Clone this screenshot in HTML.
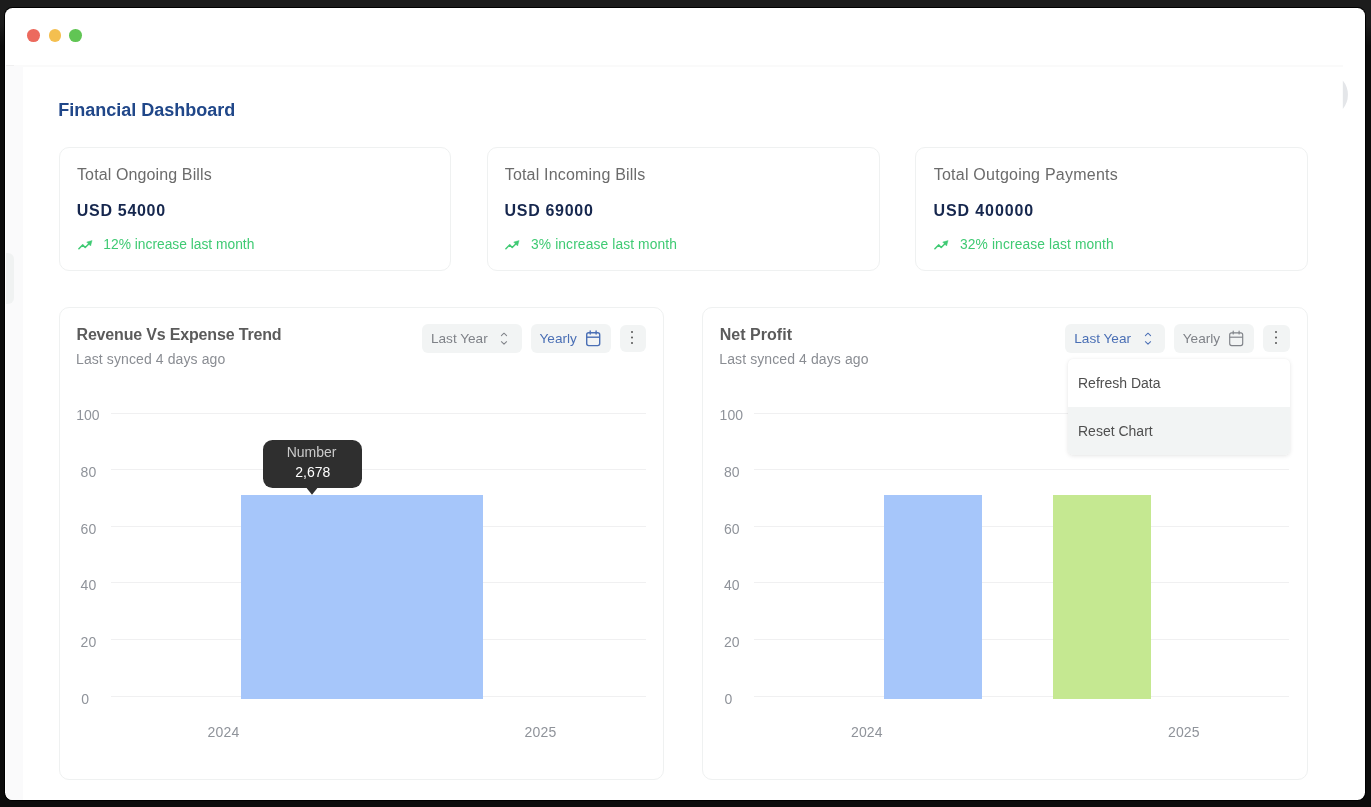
<!DOCTYPE html>
<html><head><meta charset="utf-8">
<style>
*{box-sizing:border-box;margin:0;padding:0}
html,body{width:1371px;height:807px;overflow:hidden;background:linear-gradient(to bottom,#1c1c1c 0,#1c1c1c 24px,#0c0c0c 46px,#0c0c0c 100%);font-family:"Liberation Sans",sans-serif;}
.abs{position:absolute}
#winb{position:absolute;left:4px;top:7px;width:1362px;height:794px;background:#000;border-radius:8.5px}
#win{position:absolute;left:4.9px;top:7.7px;width:1360.2px;height:792.2px;background:#fff;border-radius:7.6px;overflow:hidden}
#tb{position:absolute;left:1.4px;top:57.3px;width:1336.5px;height:1.7px;background:#fafafa}
#tb2{position:absolute;left:1.4px;top:57.3px;width:8px;height:1.7px;background:#efeff0}
.dot{position:absolute;width:12.8px;height:12.8px;border-radius:50%;top:21.55px}
#side{position:absolute;left:1.4px;top:58.5px;width:16.7px;height:740px;background:#fafafb}
#sidepill{position:absolute;left:1.2px;top:245.3px;width:8px;height:51px;background:#f0f2f2;border-radius:0 6px 6px 0}

.t{position:absolute;white-space:nowrap;line-height:1}
.card{position:absolute;border:1px solid #eff1f1;border-radius:10px;background:#fff}
.ct{color:#6b6b6b;font-size:16px}
.cv{color:#16274e;font-size:16px;font-weight:bold;letter-spacing:0.7px}
.cg{color:#3fca73;font-size:13.8px}
.btn{position:absolute;background:#f2f4f4;border-radius:6px;height:28.5px;top:324.1px}
.grid{position:absolute;height:1px;background:#f0f0f1}
.yl{color:#8f939a;font-size:14px}
</style></head><body>
<div id="root" style="position:absolute;left:0;top:0;width:1371px;height:807px;will-change:transform">
<div id="winb"></div><div id="win">
 <div id="tb"></div>
 <div class="dot" style="left:22.2px;background:#ec6a5e"></div>
 <div class="dot" style="left:43.8px;background:#f4bf4f"></div>
 <div class="dot" style="left:64.6px;background:#61c554"></div>
 <div id="tb2"></div><div id="side"></div><div id="sidepill"></div>
</div>
<svg class="abs" style="left:1340px;top:78px" width="10" height="34" viewBox="1340 78 10 34"><path d="M1342.8 80.6 A22.1 22.1 0 0 1 1342.8 108.9 Z" fill="#e4e6e9"/></svg>
<div class="t" id="title" style="left:58.3px;top:100.6px;font-size:18px;font-weight:bold;color:#204789">Financial Dashboard</div>
<div class="card" style="left:59px;top:147px;width:392px;height:124px"></div>
<div class="t ct" id="ct0" style="left:77px;top:167px;letter-spacing:0.12px">Total Ongoing Bills</div>
<div class="t cv" id="cv0" style="left:76.8px;top:202.7px;letter-spacing:0.7px">USD 54000</div>
<div class="t cg" id="cg0" style="left:103.3px;top:238px;letter-spacing:0px">12% increase last month</div>
<svg class="abs" style="left:77.7px;top:238.6px" width="16" height="12" viewBox="0 0 16 12"><path d="M0.9 9.7 L4.6 5.9 L7.2 8.5 L11.2 4.5" fill="none" stroke="#3fca73" stroke-width="1.5" stroke-linecap="round" stroke-linejoin="round"/><path d="M8.7 3.1 L14.1 1.5 L12.6 7.0 Z" fill="#3fca73" stroke="#3fca73" stroke-width="0.4" stroke-linejoin="round"/></svg>
<div class="card" style="left:486.5px;top:147px;width:393px;height:124px"></div>
<div class="t ct" id="ct1" style="left:504.7px;top:167px;letter-spacing:0.19px">Total Incoming Bills</div>
<div class="t cv" id="cv1" style="left:504.5px;top:202.7px;letter-spacing:0.7px">USD 69000</div>
<div class="t cg" id="cg1" style="left:531.0px;top:238px;letter-spacing:0.12px">3% increase last month</div>
<svg class="abs" style="left:505.4px;top:238.6px" width="16" height="12" viewBox="0 0 16 12"><path d="M0.9 9.7 L4.6 5.9 L7.2 8.5 L11.2 4.5" fill="none" stroke="#3fca73" stroke-width="1.5" stroke-linecap="round" stroke-linejoin="round"/><path d="M8.7 3.1 L14.1 1.5 L12.6 7.0 Z" fill="#3fca73" stroke="#3fca73" stroke-width="0.4" stroke-linejoin="round"/></svg>
<div class="card" style="left:915px;top:147px;width:392.5px;height:124px"></div>
<div class="t ct" id="ct2" style="left:933.7px;top:167px;letter-spacing:0.24px">Total Outgoing Payments</div>
<div class="t cv" id="cv2" style="left:933.5px;top:202.7px;letter-spacing:0.9px">USD 400000</div>
<div class="t cg" id="cg2" style="left:960.0px;top:238px;letter-spacing:0.12px">32% increase last month</div>
<svg class="abs" style="left:934.4000000000001px;top:238.6px" width="16" height="12" viewBox="0 0 16 12"><path d="M0.9 9.7 L4.6 5.9 L7.2 8.5 L11.2 4.5" fill="none" stroke="#3fca73" stroke-width="1.5" stroke-linecap="round" stroke-linejoin="round"/><path d="M8.7 3.1 L14.1 1.5 L12.6 7.0 Z" fill="#3fca73" stroke="#3fca73" stroke-width="0.4" stroke-linejoin="round"/></svg>
<div class="card" style="left:59px;top:307px;width:605px;height:473px"></div>
<div class="card" style="left:702.3px;top:307px;width:605.3px;height:473px"></div>
<div class="t" id="h0" style="left:76.5px;top:326.6px;font-size:16px;letter-spacing:-0.17px;font-weight:bold;color:#5b5b5b">Revenue Vs Expense Trend</div>
<div class="t" id="s0" style="left:76px;top:351.7px;font-size:14px;letter-spacing:0.1px;color:#8a8d93">Last synced 4 days ago</div>
<div class="btn" style="left:422px;width:99.7px"></div>
<div class="btn" style="left:530.8px;width:80px"></div>
<div class="btn" style="left:619.8px;width:26.5px;height:27px;top:325px"></div>
<div class="t" id="ba0" style="left:431px;top:332.3px;font-size:13.6px;color:#7f8288">Last Year</div>
<div class="t" id="bb0" style="left:539.5px;top:332.3px;font-size:13.6px;color:#4a6fb5">Yearly</div>
<svg class="abs" style="left:499.2px;top:331px" width="10" height="16" viewBox="0 0 10 16"><path d="M2.4 4.6 L5 2.2 L7.6 4.6 M2.4 10.7 L5 13.2 L7.6 10.7" fill="none" stroke="#7f8288" stroke-width="1.05" stroke-linecap="round" stroke-linejoin="round"/></svg>
<svg class="abs" style="left:584px;top:329px" width="18" height="19" viewBox="0 0 18 19"><rect x="2.7" y="3.8" width="13" height="12.8" rx="2" fill="none" stroke="#4a6fb5" stroke-width="1.4"/><path d="M2.7 8.2 H15.7" stroke="#4a6fb5" stroke-width="1.4"/><path d="M6.2 2.0 V5.0 M12.1 2.0 V5.0" stroke="#4a6fb5" stroke-width="1.4" stroke-linecap="round"/></svg>
<svg class="abs" style="left:629.4px;top:329px" width="6" height="18" viewBox="0 0 6 18"><circle cx="3" cy="3.1" r="1.0" fill="#555"/><circle cx="3" cy="8.6" r="1.0" fill="#555"/><circle cx="3" cy="14.1" r="1.0" fill="#555"/></svg>
<div class="t" id="h1" style="left:719.8px;top:326.6px;font-size:16px;letter-spacing:0.02px;font-weight:bold;color:#5b5b5b">Net Profit</div>
<div class="t" id="s1" style="left:719.3px;top:351.7px;font-size:14px;letter-spacing:0.1px;color:#8a8d93">Last synced 4 days ago</div>
<div class="btn" style="left:1065.3px;width:99.7px"></div>
<div class="btn" style="left:1174.1px;width:80px"></div>
<div class="btn" style="left:1263.1px;width:26.5px;height:27px;top:325px"></div>
<div class="t" id="ba1" style="left:1074.3px;top:332.3px;font-size:13.6px;color:#4a6fb5">Last Year</div>
<div class="t" id="bb1" style="left:1182.8px;top:332.3px;font-size:13.6px;color:#7f8288">Yearly</div>
<svg class="abs" style="left:1142.5px;top:331px" width="10" height="16" viewBox="0 0 10 16"><path d="M2.4 4.6 L5 2.2 L7.6 4.6 M2.4 10.7 L5 13.2 L7.6 10.7" fill="none" stroke="#4a6fb5" stroke-width="1.05" stroke-linecap="round" stroke-linejoin="round"/></svg>
<svg class="abs" style="left:1227.3px;top:329px" width="18" height="19" viewBox="0 0 18 19"><rect x="2.7" y="3.8" width="13" height="12.8" rx="2" fill="none" stroke="#7f8288" stroke-width="1.15"/><path d="M2.7 8.2 H15.7" stroke="#7f8288" stroke-width="1.15"/><path d="M6.2 2.0 V5.0 M12.1 2.0 V5.0" stroke="#7f8288" stroke-width="1.15" stroke-linecap="round"/></svg>
<svg class="abs" style="left:1272.6999999999998px;top:329px" width="6" height="18" viewBox="0 0 6 18"><circle cx="3" cy="3.1" r="1.0" fill="#555"/><circle cx="3" cy="8.6" r="1.0" fill="#555"/><circle cx="3" cy="14.1" r="1.0" fill="#555"/></svg>
<div class="grid" style="left:111.0px;top:412.5px;width:535px"></div>
<div class="t yl" style="left:76.3px;top:408.45px">100</div>
<div class="grid" style="left:111.0px;top:469.0px;width:535px"></div>
<div class="t yl" style="left:80.6px;top:465.10px">80</div>
<div class="grid" style="left:111.0px;top:525.5px;width:535px"></div>
<div class="t yl" style="left:80.6px;top:521.75px">60</div>
<div class="grid" style="left:111.0px;top:582.0px;width:535px"></div>
<div class="t yl" style="left:80.6px;top:578.40px">40</div>
<div class="grid" style="left:111.0px;top:638.5px;width:535px"></div>
<div class="t yl" style="left:80.6px;top:635.05px">20</div>
<div class="grid" style="left:111.0px;top:695.5px;width:535px"></div>
<div class="t yl" style="left:81.2px;top:691.70px">0</div>
<div class="t yl" style="left:207.6px;top:724.6px;letter-spacing:0.2px">2024</div>
<div class="t yl" style="left:524.6px;top:724.6px;letter-spacing:0.2px">2025</div>
<div class="grid" style="left:754.3px;top:412.5px;width:535px"></div>
<div class="t yl" style="left:719.6px;top:408.45px">100</div>
<div class="grid" style="left:754.3px;top:469.0px;width:535px"></div>
<div class="t yl" style="left:723.9px;top:465.10px">80</div>
<div class="grid" style="left:754.3px;top:525.5px;width:535px"></div>
<div class="t yl" style="left:723.9px;top:521.75px">60</div>
<div class="grid" style="left:754.3px;top:582.0px;width:535px"></div>
<div class="t yl" style="left:723.9px;top:578.40px">40</div>
<div class="grid" style="left:754.3px;top:638.5px;width:535px"></div>
<div class="t yl" style="left:723.9px;top:635.05px">20</div>
<div class="grid" style="left:754.3px;top:695.5px;width:535px"></div>
<div class="t yl" style="left:724.5px;top:691.70px">0</div>
<div class="t yl" style="left:850.9px;top:724.6px;letter-spacing:0.2px">2024</div>
<div class="t yl" style="left:1167.9px;top:724.6px;letter-spacing:0.2px">2025</div>
<div class="abs" style="left:241px;top:494.6px;width:242px;height:204px;background:#a6c6fa"></div>
<div class="abs" style="left:884px;top:494.6px;width:98px;height:204px;background:#a6c6fa"></div>
<div class="abs" style="left:1053px;top:494.6px;width:98px;height:204px;background:#c5e891"></div>
<div class="abs" style="left:263px;top:440px;width:99px;height:47.6px;background:#2f2f2f;border-radius:9.5px"></div>
<svg class="abs" style="left:303.8px;top:487px" width="16" height="9" viewBox="0 0 16 9"><path d="M1.8 0 L8 7.7 L14.2 0 Z" fill="#2f2f2f"/></svg>
<div class="t" id="tt1" style="left:262.1px;width:99px;text-align:center;top:444.5px;font-size:14px;color:#cbcbcb">Number</div>
<div class="t" id="tt2" style="left:263.3px;width:99px;text-align:center;top:464.8px;font-size:14px;color:#ffffff">2,678</div>
<div class="abs" style="left:1067.5px;top:359px;width:222.3px;height:96.3px;background:#fff;border-radius:5px;box-shadow:0 1px 4px rgba(0,0,0,0.10),0 0 1px rgba(0,0,0,0.05);overflow:hidden">
  <div class="abs" style="left:0;top:48px;width:223px;height:49px;background:#f2f4f4"></div>
</div>
<div class="t" id="d1" style="left:1078px;top:376px;font-size:14px;color:#4f4f4f">Refresh Data</div>
<div class="t" id="d2" style="left:1078px;top:424px;font-size:14px;color:#4f4f4f">Reset Chart</div>
</div></body></html>
